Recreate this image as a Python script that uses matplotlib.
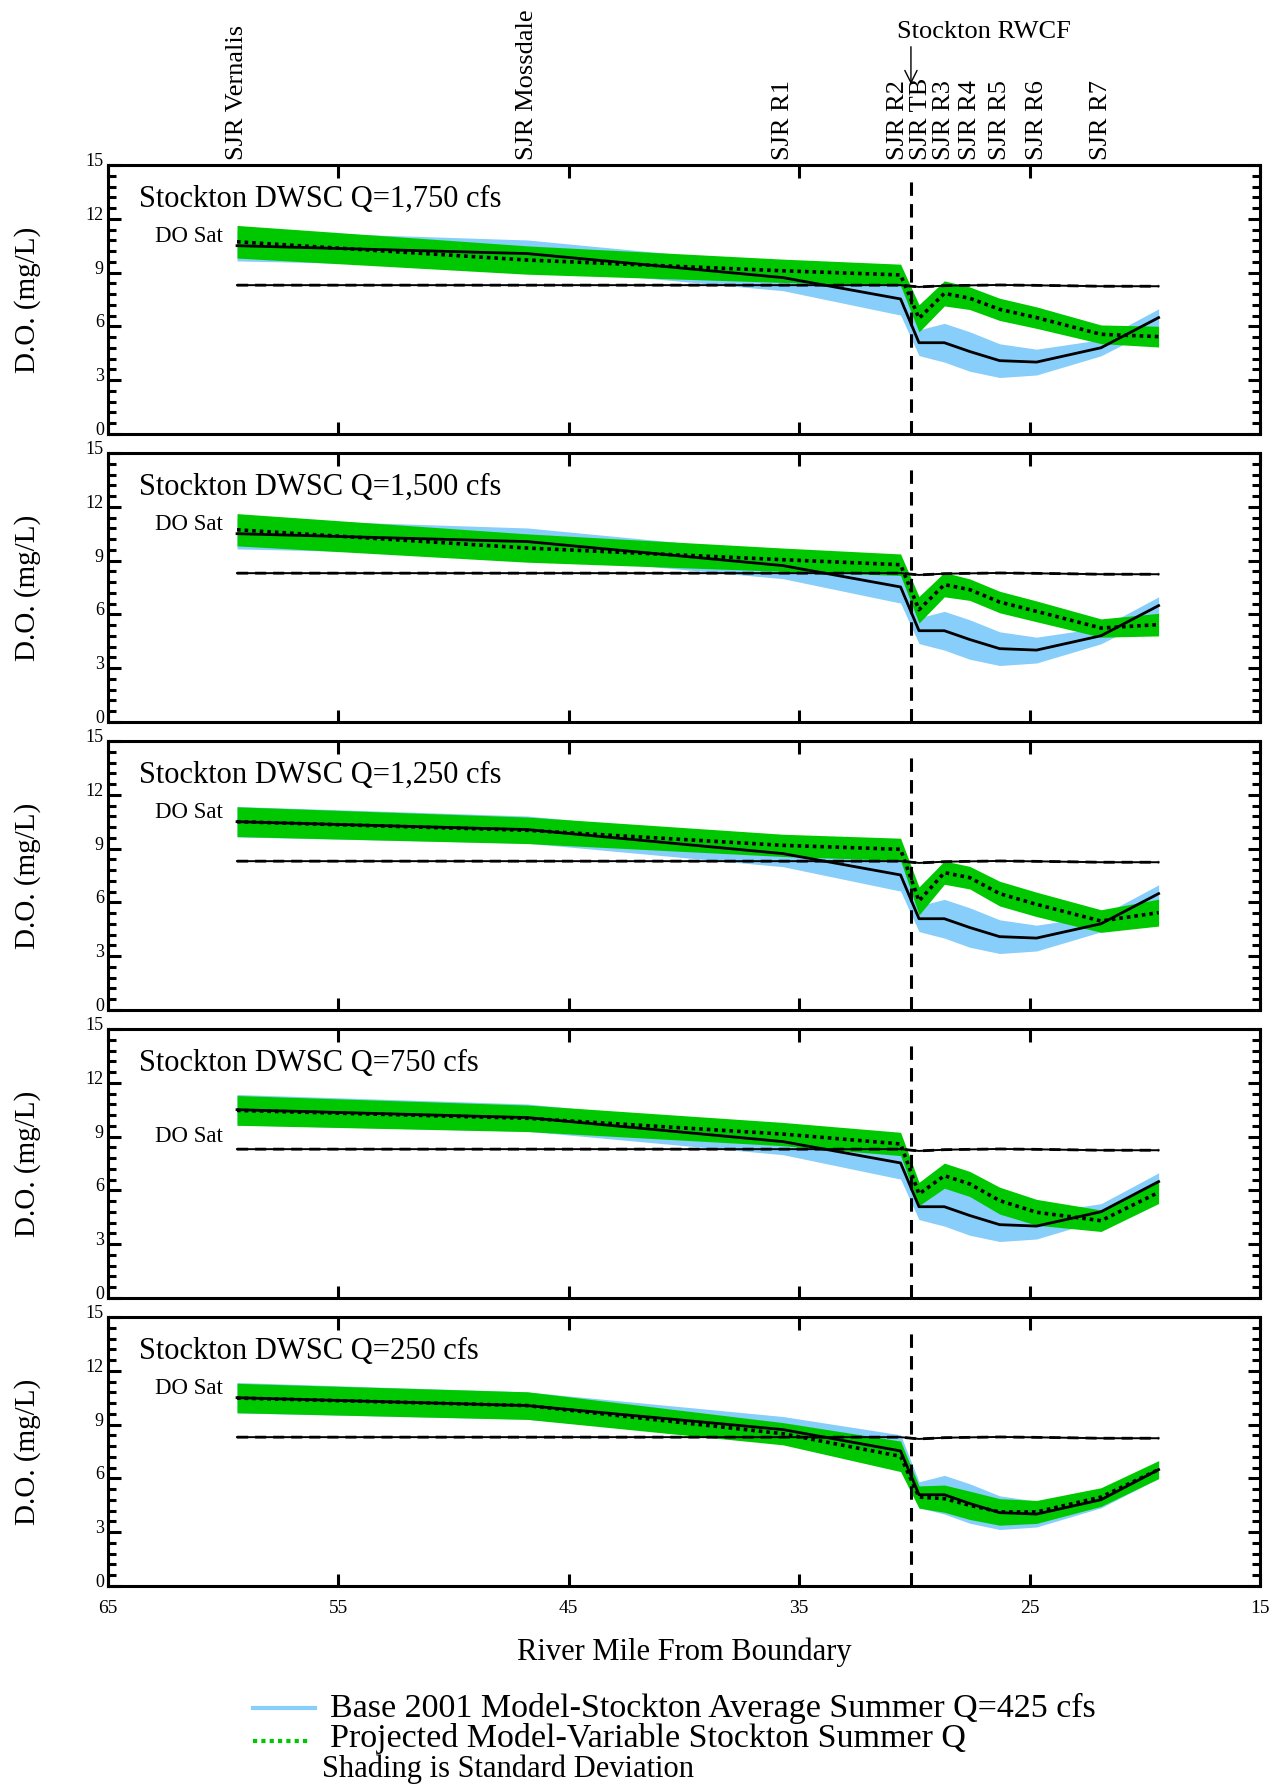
import numpy as np
import matplotlib
matplotlib.use('Agg')
import matplotlib.pyplot as plt
import matplotlib.transforms as mtransforms
from matplotlib.lines import Line2D
from matplotlib.ticker import MultipleLocator

plt.rcParams['font.family'] = ['Liberation Serif', 'DejaVu Serif']

# river mile of each model output node (first 10 are also the labelled stations)
river_mile = [59.4, 46.8, 35.7, 30.6, 29.8, 28.7, 27.6, 26.3, 24.7, 21.9, 19.4]
station_names = ['SJR Vernalis', 'SJR Mossdale', 'SJR R1', 'SJR R2', 'SJR TB',
                 'SJR R3', 'SJR R4', 'SJR R5', 'SJR R6', 'SJR R7']
rwcf_mile = 30.15

do_sat = [8.3, 8.3, 8.3, 8.3, 8.2, 8.27, 8.29, 8.31, 8.29, 8.24, 8.24]

# base 2001 model (same in every panel)
base_mean = [10.5, 10.06, 8.72, 7.53, 5.09, 5.09, 4.6, 4.09, 4.01, 4.81, 6.49]
base_sd = [0.85, 0.76, 0.73, 0.9, 0.72, 1.08, 1.1, 0.94, 0.72, 0.45, 0.49]

# projected model, one per flow scenario
panel_titles = ['Stockton DWSC Q=1,750 cfs', 'Stockton DWSC Q=1,500 cfs',
                'Stockton DWSC Q=1,250 cfs', 'Stockton DWSC Q=750 cfs',
                'Stockton DWSC Q=250 cfs']
proj_mean = [
    [10.72, 9.7, 9.1, 8.87, 6.45, 7.84, 7.57, 6.95, 6.49, 5.56, 5.43],
    [10.72, 9.7, 9.05, 8.77, 6.26, 7.66, 7.38, 6.69, 6.17, 5.24, 5.43],
    [10.5, 10.02, 9.18, 8.96, 6.08, 7.66, 7.38, 6.49, 5.89, 4.96, 5.43],
    [10.46, 10.02, 9.14, 8.59, 5.8, 6.82, 6.36, 5.43, 4.78, 4.31, 5.89],
    [10.48, 10.06, 8.49, 7.23, 4.96, 4.87, 4.5, 4.13, 4.13, 4.96, 6.49],
]
proj_sd = [
    [0.91, 0.79, 0.65, 0.6, 0.76, 0.7, 0.63, 0.62, 0.6, 0.52, 0.58],
    [0.9, 0.79, 0.65, 0.6, 0.74, 0.68, 0.6, 0.6, 0.58, 0.51, 0.63],
    [0.83, 0.74, 0.62, 0.62, 0.78, 0.65, 0.63, 0.69, 0.68, 0.63, 0.75],
    [0.83, 0.74, 0.65, 0.65, 0.65, 0.7, 0.7, 0.75, 0.72, 0.6, 0.62],
    [0.82, 0.77, 0.62, 0.85, 0.62, 0.76, 0.79, 0.74, 0.64, 0.52, 0.5],
]
do_sat_label_y = [11.0, 11.0, 11.0, 9.0, 11.0]

BLUE = '#87CEFA'
GREEN = '#00C800'

W, H = 1280, 1786
fig = plt.figure(figsize=(W / 100, H / 100), dpi=100)

panel_tops = [165, 453, 741, 1029, 1317]
panel_h = 269
left_px, right_px = 108, 1260

x = np.array(river_mile)
bm = np.array(base_mean)
bs = np.array(base_sd)

axes = []
for i, top in enumerate(panel_tops):
    ax = fig.add_axes([left_px / W, 1 - (top + panel_h) / H,
                       (right_px - left_px) / W, panel_h / H])
    axes.append(ax)
    pm = np.array(proj_mean[i])
    ps = np.array(proj_sd[i])

    ax.fill_between(x, bm - bs, bm + bs, color=BLUE, lw=0, zorder=1)
    ax.fill_between(x, pm - ps, pm + ps, color=GREEN, lw=0, zorder=2)
    ax.plot(x, do_sat, color='k', lw=1.4, zorder=3)
    ax.plot(x, do_sat, color='k', lw=2.0, ls=(0, (4, 2.5)), zorder=3)
    ax.plot(x, bm, color='k', lw=2, zorder=4)
    ax.plot(x, pm, color='k', lw=2.6, ls=(0, (1, 1.1)), zorder=5)
    ax.axvline(rwcf_mile, ymax=0.965, color='k', lw=2.2, ls=(0, (4.4, 2.7)), zorder=6)

    ax.text(63.67, 13.1, panel_titles[i], fontsize=22, va='center', ha='left')
    ax.text(60.0, do_sat_label_y[i], 'DO Sat', fontsize=16.5, va='center', ha='right')

    ax.set_xlim(65, 15)
    ax.set_ylim(0, 15)
    ax.set_xticks([65, 55, 45, 35, 25, 15])
    ax.set_yticks([0, 3, 6, 9, 12, 15])
    ax.yaxis.set_minor_locator(MultipleLocator(0.6))
    ax.tick_params(which='both', direction='in', top=True, right=True, width=2.2,
                   colors='k')
    ax.tick_params(which='major', length=9, labelsize=13, pad=3)
    ax.tick_params(which='minor', length=5.5)
    ax.tick_params(axis='x', pad=10, labelsize=14)
    for sp in ax.spines.values():
        sp.set_linewidth(2.2)
    # y tick labels sit a little above their ticks
    offset = mtransforms.ScaledTranslation(0, 4 / 72, fig.dpi_scale_trans)
    for lab in ax.get_yticklabels():
        lab.set_transform(lab.get_transform() + offset)
    if i < len(panel_tops) - 1:
        ax.set_xticklabels([])

    ax.set_ylabel('D.O. (mg/L)', fontsize=21)
    ax.yaxis.label.set_va('center')
    ax.yaxis.set_label_coords(-0.07, 0.5)

# station names above the top panel (R2 / TB pushed apart a hair)
top_ax = axes[0]
nudge_pt = {'SJR R2': -1.5, 'SJR TB': 1.5}
for name, xm in zip(station_names, river_mile):
    tr = top_ax.get_xaxis_transform() + mtransforms.ScaledTranslation(
        nudge_pt.get(name, 0) / 72, 0, fig.dpi_scale_trans)
    top_ax.text(xm, 1.018, name, rotation=90, ha='center', va='bottom', fontsize=19,
                transform=tr, clip_on=False)

top_ax.annotate('', xy=(rwcf_mile, 1.29), xytext=(rwcf_mile, 1.45),
                xycoords=top_ax.get_xaxis_transform(),
                arrowprops=dict(arrowstyle='->', color='k', lw=1.0, mutation_scale=22),
                annotation_clip=False)
top_ax.text(30.75, 1.495, 'Stockton RWCF', ha='left', va='center', fontsize=19,
            transform=top_ax.get_xaxis_transform(), clip_on=False)

bot = axes[-1]
bot.set_xlabel('River Mile From Boundary', fontsize=22)
bot.xaxis.label.set_va('center')
bot.xaxis.set_label_coords(0.5, -0.245)

# legend
y1 = 1 - 1708 / H
y2 = 1 - 1739 / H
y3 = 1 - 1769 / H
fig.add_artist(Line2D([253 / W, 315 / W], [y1, y1], color=BLUE, lw=3))
fig.add_artist(Line2D([253 / W, 310 / W], [y2 - 0.001, y2 - 0.001], color=GREEN, lw=3,
                      ls=(0, (1, 1))))
fig.text(330 / W, y1, 'Base 2001 Model-Stockton Average Summer Q=425 cfs',
         fontsize=24.5, va='center', ha='left')
fig.text(330 / W, y2, 'Projected Model-Variable Stockton Summer Q',
         fontsize=24.5, va='center', ha='left')
fig.text(322 / W, y3, 'Shading is Standard Deviation', fontsize=22,
         va='center', ha='left')

fig.savefig('out.png', dpi=100)
